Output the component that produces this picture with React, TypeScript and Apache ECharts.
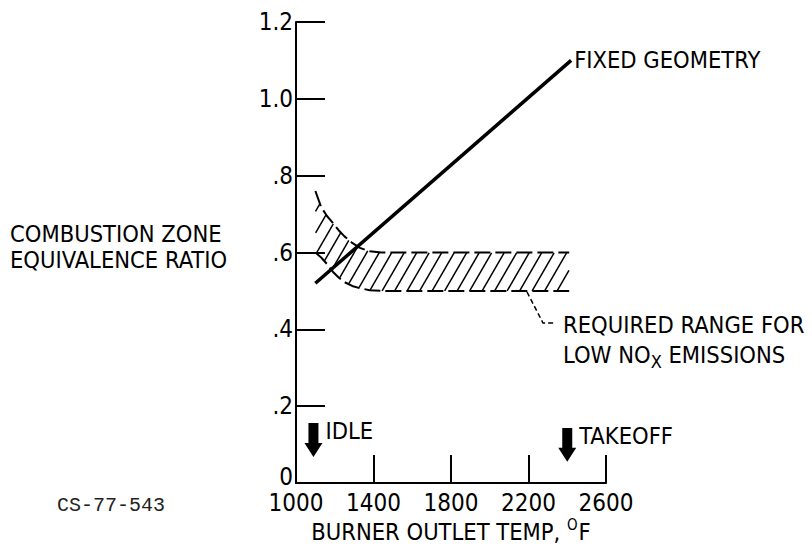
import React, { useEffect, useRef } from 'react';
import * as echarts from 'echarts';

// ---- data ----
const xMin = 1000;
const xMax = 2600;
const xStep = 400;
const yTicks = [0, 0.2, 0.4, 0.6, 0.8, 1.0, 1.2];
const yTickLabels = ['0', '.2', '.4', '.6', '.8', '1.0', '1.2'];

const fixedGeometryTemp = [1100, 2420];
const fixedGeometryRatio = [0.52, 1.1];

const bandTemp = [1100, 1130, 1160, 1190, 1220, 1250, 1290, 1330, 1380, 1440, 2410];
const bandUpper = [0.76, 0.718, 0.695, 0.677, 0.658, 0.642, 0.625, 0.612, 0.603, 0.6, 0.6];
const bandLower = [0.6, 0.587, 0.57, 0.55, 0.535, 0.523, 0.513, 0.507, 0.502, 0.5, 0.5];

const arrowNames = ['IDLE', 'TAKEOFF'];
const arrowTemp = [1090, 2400];
const arrowTop = [0.156, 0.143];
const arrowTip = [0.068, 0.055];

const COND = '"DejaVu Sans Condensed", "Liberation Sans Narrow", sans-serif';
const TXT = 23.5;
const NUM = 24;

function interpY(pts: number[][], x: number): number {
  for (let i = 0; i < pts.length - 1; i++) {
    const a = pts[i];
    const b = pts[i + 1];
    if (x >= a[0] && x <= b[0]) {
      const t = b[0] === a[0] ? 0 : (x - a[0]) / (b[0] - a[0]);
      return a[1] + t * (b[1] - a[1]);
    }
  }
  return NaN;
}

export default function App() {
  const ref = useRef<HTMLDivElement>(null);

  useEffect(() => {
    if (!ref.current) return;
    const chart = echarts.init(ref.current, null, { renderer: 'svg' });

    const dashed = { color: '#000', width: 2, type: [16, 5] as number[] };

    const option: any = {
      animation: false,
      backgroundColor: '#fff',
      grid: { left: 296, right: 206, top: 22, bottom: 64, containLabel: false },
      xAxis: {
        type: 'value',
        min: xMin,
        max: xMax,
        interval: xStep,
        axisLine: { show: true, lineStyle: { color: '#000', width: 2 } },
        axisTick: { show: true, inside: true, length: 28, lineStyle: { color: '#000', width: 2 } },
        axisLabel: {
          color: '#000',
          fontSize: NUM,
          fontFamily: COND,
          margin: 8,
          formatter: (v: number) => String(v),
        },
        splitLine: { show: false },
      },
      yAxis: {
        type: 'value',
        min: 0,
        max: 1.2,
        interval: 0.2,
        axisLine: { show: true, lineStyle: { color: '#000', width: 2 } },
        axisTick: { show: true, inside: true, length: 29, lineStyle: { color: '#000', width: 2 } },
        axisLabel: {
          color: '#000',
          fontSize: NUM,
          fontFamily: COND,
          margin: 3,
          formatter: (v: number) => {
            const i = yTicks.findIndex((t) => Math.abs(t - v) < 1e-6);
            if (i < 0) return '';
            return i === 0 ? '{z|' + yTickLabels[i] + '}' : yTickLabels[i];
          },
          rich: {
            z: { fontSize: NUM, fontFamily: COND, color: '#000', padding: [0, 0, 12, 0] },
          },
        },
        splitLine: { show: false },
      },
      series: [
        {
          type: 'custom',
          name: 'hatch',
          data: [[bandTemp[0], bandUpper[0]]],
          renderItem: (params: any, api: any) => {
            const up = bandTemp.map((t, i) => api.coord([t, bandUpper[i]]));
            const lo = bandTemp.map((t, i) => api.coord([t, bandLower[i]]));
            const xL = up[0][0];
            const xR = up[up.length - 1][0];
            const yMin = Math.min(...up.map((p: number[]) => p[1])) - 1;
            const yMax = Math.max(...lo.map((p: number[]) => p[1])) + 1;
            const k = 1 / Math.tan((60 * Math.PI) / 180);
            const spacing = 12.5;
            const children: any[] = [];
            const push = (seg: number[][]) => {
              if (Math.hypot(seg[1][0] - seg[0][0], seg[1][1] - seg[0][1]) < 1) return;
              children.push({
                type: 'line',
                shape: { x1: seg[0][0], y1: seg[0][1], x2: seg[1][0], y2: seg[1][1] },
                style: { stroke: '#000', lineWidth: 1.5 },
              });
            };
            for (let c = xL - k * (yMax - yMin); c <= xR + 1; c += spacing) {
              let seg: number[][] | null = null;
              for (let y = yMax; y >= yMin; y -= 0.5) {
                const x = c + k * (yMax - y);
                let inside = false;
                if (x >= xL && x <= xR) {
                  const yu = interpY(up, x);
                  const yl = interpY(lo, x);
                  inside = y >= yu && y <= yl;
                }
                if (inside) {
                  if (!seg) seg = [[x, y], [x, y]];
                  else seg[1] = [x, y];
                } else if (seg) {
                  push(seg);
                  seg = null;
                }
              }
              if (seg) push(seg);
            }
            return { type: 'group', children };
          },
          z: 1,
        },
        {
          type: 'line',
          name: 'upper',
          data: bandTemp.map((t, i) => [t, bandUpper[i]]),
          symbol: 'none',
          lineStyle: dashed,
          z: 2,
        },
        {
          type: 'line',
          name: 'lower',
          data: bandTemp.map((t, i) => [t, bandLower[i]]),
          symbol: 'none',
          lineStyle: dashed,
          z: 2,
        },
        {
          type: 'line',
          name: 'FIXED GEOMETRY',
          data: fixedGeometryTemp.map((t, i) => [t, fixedGeometryRatio[i]]),
          symbol: 'none',
          lineStyle: { color: '#000', width: 3.5 },
          endLabel: {
            show: true,
            formatter: 'FIXED GEOMETRY',
            color: '#000',
            fontSize: TXT,
            fontFamily: COND,
            distance: 3,
          },
          z: 3,
        },
        {
          type: 'custom',
          name: 'arrows',
          data: arrowTemp.map((t, i) => [t, arrowTop[i], arrowTip[i]]),
          renderItem: (params: any, api: any) => {
            const top = api.coord([api.value(0), api.value(1)]);
            const tip = api.coord([api.value(0), api.value(2)]);
            const x = top[0];
            const y1 = top[1];
            const y2 = tip[1];
            const hw = 5;
            const hh = 9;
            const hl = 14;
            return {
              type: 'group',
              children: [
                {
                  type: 'polygon',
                  shape: {
                    points: [
                      [x - hw, y1],
                      [x + hw, y1],
                      [x + hw, y2 - hl],
                      [x + hh, y2 - hl],
                      [x, y2],
                      [x - hh, y2 - hl],
                      [x - hw, y2 - hl],
                    ],
                  },
                  style: { fill: '#000' },
                },
                {
                  type: 'text',
                  style: {
                    text: arrowNames[params.dataIndex],
                    x: x + 12,
                    y: y1 + 8,
                    fill: '#000',
                    fontSize: TXT,
                    fontFamily: COND,
                    verticalAlign: 'middle',
                    align: 'left',
                  },
                },
              ],
            };
          },
          z: 4,
        },
      ],
      graphic: [
        {
          type: 'text',
          left: 10,
          top: 221,
          style: {
            text: 'COMBUSTION ZONE\nEQUIVALENCE RATIO',
            fill: '#000',
            fontSize: TXT,
            lineHeight: 26,
            fontFamily: COND,
          },
        },
        {
          type: 'text',
          x: 451,
          y: 532,
          style: {
            text: 'BURNER OUTLET TEMP, {sup|O}F',
            fill: '#000',
            fontSize: TXT,
            fontFamily: COND,
            align: 'center',
            verticalAlign: 'middle',
            rich: {
              sup: { fontSize: 15, fontFamily: COND, fill: '#000', padding: [0, 1, 14, 0] },
            },
          },
        },
        {
          type: 'polyline',
          shape: { points: [[527, 292], [543, 323], [556, 323]] },
          style: { stroke: '#000', lineWidth: 1.5, lineDash: [5, 3], fill: 'none' },
        },
        {
          type: 'text',
          x: 563,
          y: 325,
          style: {
            text: 'REQUIRED RANGE FOR',
            fill: '#000',
            fontSize: TXT,
            fontFamily: COND,
            verticalAlign: 'middle',
          },
        },
        {
          type: 'text',
          x: 563,
          y: 355,
          style: {
            text: 'LOW NO{sub|X} EMISSIONS',
            fill: '#000',
            fontSize: TXT,
            fontFamily: COND,
            verticalAlign: 'middle',
            rich: {
              sub: { fontSize: 18, fontFamily: COND, fill: '#000', padding: [12, 0, 0, 0] },
            },
          },
        },
        {
          type: 'text',
          x: 57,
          y: 505,
          style: {
            text: 'CS-77-543',
            fill: '#222',
            fontSize: 20,
            fontFamily: '"Liberation Mono", "DejaVu Sans Mono", monospace',
            verticalAlign: 'middle',
          },
        },
      ],
    };

    chart.setOption(option);
    return () => chart.dispose();
  }, []);

  return (
    <div
      ref={ref}
      style={{ position: 'absolute', left: 0, top: 0, width: 812, height: 547, background: '#fff' }}
    />
  );
}
